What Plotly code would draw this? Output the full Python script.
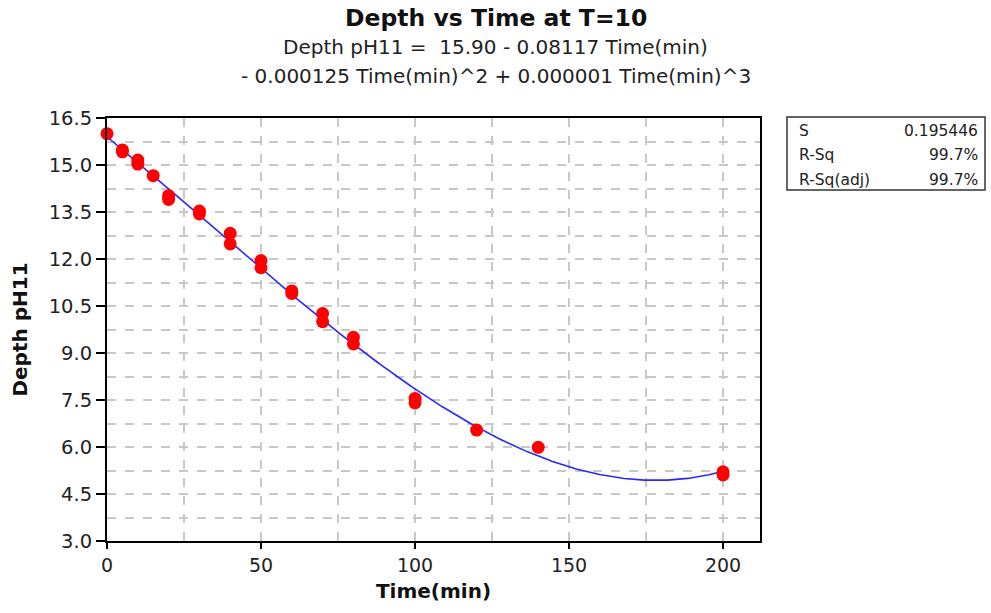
import numpy as np
import plotly.graph_objects as go

# Observations
time_min = [0, 5, 5, 10, 10, 15, 20, 20, 30, 30, 40, 40, 50, 50, 60, 60,
            70, 70, 80, 80, 100, 100, 120, 140, 200, 200]
depth_ph11 = [16.0, 15.48, 15.42, 15.16, 15.03, 14.66, 14.02, 13.9, 13.53, 13.44,
              12.82, 12.48, 11.95, 11.72, 10.98, 10.9, 10.26, 10.0, 9.5, 9.29,
              7.55, 7.41, 6.54, 5.99, 5.21, 5.11]

# Cubic regression coefficients (intercept, t, t^2, t^3)
coef = [15.90, -0.08117, -0.000125, 0.00000132]

# Model summary
stat_names = ["S", "R-Sq", "R-Sq(adj)"]
stat_values = ["0.195446", "99.7%", "99.7%"]

x_ticks = [0, 50, 100, 150, 200]
y_ticks = [3.0, 4.5, 6.0, 7.5, 9.0, 10.5, 12.0, 13.5, 15.0, 16.5]

t_fit = np.linspace(0, 200, 400)
d_fit = coef[0] + coef[1] * t_fit + coef[2] * t_fit**2 + coef[3] * t_fit**3

FONT = "DejaVu Sans"
NB = "\u00a0"

fig = go.Figure()
fig.add_trace(go.Scatter(x=t_fit, y=d_fit, mode="lines",
                         line=dict(color="#2828ff", width=1.6),
                         hoverinfo="skip", showlegend=False))
fig.add_trace(go.Scatter(x=time_min, y=depth_ph11, mode="markers",
                         marker=dict(color="#ff0000", size=13),
                         cliponaxis=False, showlegend=False))

grid = dict(showgrid=True, gridcolor="#c8c8c8", gridwidth=1.5, griddash="dash")

fig.update_xaxes(range=[0, 212], tickvals=x_ticks, ticktext=[str(v) for v in x_ticks],
                 ticks="outside", ticklen=6, tickwidth=1.5, tickcolor="black",
                 showline=True, linecolor="black", linewidth=2, mirror=True,
                 zeroline=False,
                 minor=dict(dtick=25, tick0=0, showgrid=True, gridcolor="#c8c8c8",
                            gridwidth=1.5, griddash="dash", ticks=""),
                 tickfont=dict(family=FONT, size=19, color="#222"),
                 title=dict(text="<b>Time(min)</b>", standoff=9,
                            font=dict(family=FONT, size=20, color="#111")),
                 **grid)
fig.update_yaxes(range=[3.0, 16.5], tickvals=y_ticks, ticktext=[f"{v:.1f}" for v in y_ticks],
                 ticks="outside", ticklen=9, tickwidth=1.5, tickcolor="black",
                 showline=True, linecolor="black", linewidth=2, mirror=True,
                 zeroline=False,
                 minor=dict(dtick=0.75, tick0=3.0, showgrid=True, gridcolor="#c8c8c8",
                            gridwidth=1.5, griddash="dash", ticks=""),
                 tickfont=dict(family=FONT, size=19.5, color="#222"),
                 title=dict(text="<b>Depth pH11</b>", standoff=16,
                            font=dict(family=FONT, size=20, color="#111")),
                 **grid)

subtitle1 = f"Depth pH11 ={NB} {coef[0]:.2f} - {abs(coef[1]):.5f} Time(min)"
subtitle2 = f"- {abs(coef[2]):.6f} Time(min)^2 + {coef[3]:.6f} Time(min)^3"

annotations = [
    dict(text="<b>Depth vs Time at T=10</b>", x=0.5957, y=1.2364,
         font=dict(family=FONT, size=23.5, color="#111")),
    dict(text=subtitle1, x=0.5957, y=1.1678, font=dict(family=FONT, size=20, color="#222")),
    dict(text=subtitle2, x=0.5957, y=1.0993, font=dict(family=FONT, size=20, color="#222")),
]
row_y = [0.9693, 0.9125, 0.8534]
for name, val, yy in zip(stat_names, stat_values, row_y):
    annotations.append(dict(text=name, x=1.0567, y=yy, xanchor="left",
                            font=dict(family=FONT, size=15.5, color="#222")))
    annotations.append(dict(text=val, x=1.3369, y=yy, xanchor="right",
                            font=dict(family=FONT, size=15.5, color="#222")))
for a in annotations:
    a.update(xref="paper", yref="paper", showarrow=False, yanchor="middle")
    a.setdefault("xanchor", "center")

fig.update_layout(
    width=991, height=613,
    margin=dict(l=107, r=231, t=118, b=72),
    paper_bgcolor="white", plot_bgcolor="white",
    annotations=annotations,
    shapes=[dict(type="rect", xref="paper", yref="paper",
                 x0=1.0413, x1=1.3446, y0=0.8298, y1=1.0024,
                 line=dict(color="#333", width=1.5), fillcolor="rgba(0,0,0,0)")],
)

fig.write_html("out.html")
